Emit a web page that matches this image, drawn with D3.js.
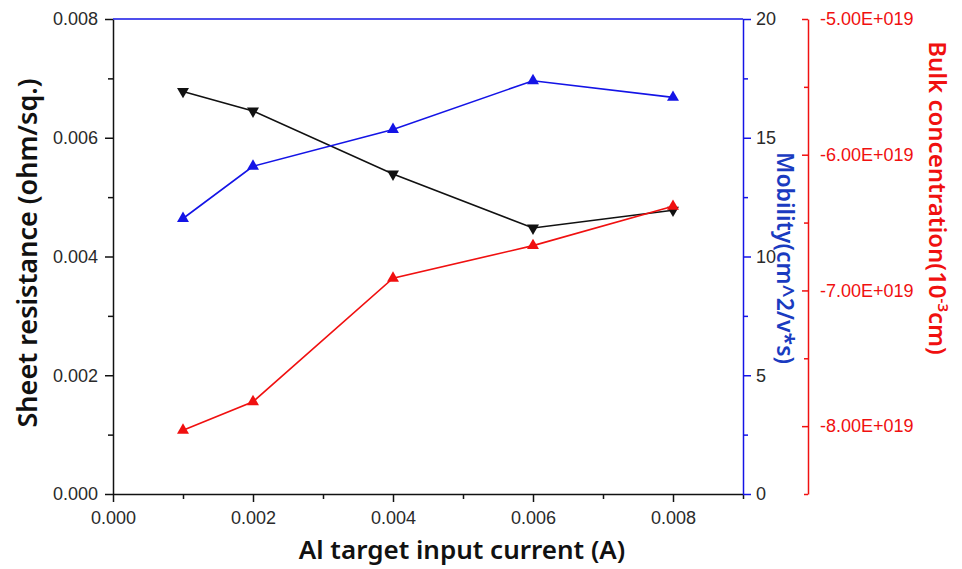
<!DOCTYPE html>
<html>
<head>
<meta charset="utf-8">
<script src="https://cdn.jsdelivr.net/npm/d3@7"></script>
<style>
  body { margin: 0; background: #fff; }
  .tick text { font-family: "Liberation Sans", Arial, sans-serif; font-size: 18px; }
  .title { font-family: "Noto Sans", sans-serif; font-weight: 600; }
</style>
</head>
<body>
<script>
// data
var currents = [0.001, 0.002, 0.004, 0.006, 0.008]
var sheetResistance = [0.00678, 0.00645, 0.00539, 0.00448, 0.00478]
var mobility = [11.6, 13.8, 15.35, 17.4, 16.7]
var bulkConc = [-8.03e19, -7.82e19, -6.91e19, -6.67e19, -6.38e19]

var xTicks = [0, 0.002, 0.004, 0.006, 0.008]
var xMinor = [0.001, 0.003, 0.005, 0.007, 0.009]
var leftTicks = [0, 0.002, 0.004, 0.006, 0.008]
var leftMinor = [0.001, 0.003, 0.005, 0.007]
var mobTicks = [0, 5, 10, 15, 20]
var mobMinor = [2.5, 7.5, 12.5, 17.5]
var bulkTicks = [-5e19, -6e19, -7e19, -8e19]
var bulkMinor = [-5.5e19, -6.5e19, -7.5e19, -8.5e19]

var width = 962, height = 569
var plot = {left: 113, right: 743, top: 19, bottom: 494}
var redAxisX = 808

var blue = "#1414e6", red = "#f01010"

var svg = d3.select("body").append("svg")
    .attr("width", width)
    .attr("height", height)

var x = d3.scaleLinear().domain([0, 0.009]).range([plot.left, plot.right])
var yLeft = d3.scaleLinear().domain([0, 0.008]).range([plot.bottom, plot.top])
var yMob = d3.scaleLinear().domain([0, 20]).range([plot.bottom, plot.top])
var yBulk = d3.scaleLinear().domain([-8.5e19, -5e19]).range([plot.bottom, plot.top])

function styleAxis(g, color) {
    g.select(".domain").attr("stroke", color).attr("stroke-width", 1.5)
    g.selectAll(".tick line").attr("stroke", color).attr("stroke-width", 1.5)
    g.selectAll(".tick text").attr("fill", "#2a2a2a")
}

/* bottom axis */
var gx = svg.append("g").attr("transform", "translate(0," + plot.bottom + ")")
    .call(d3.axisBottom(x).tickValues(xTicks).tickFormat(d3.format(".3f")).tickSize(8).tickPadding(9).tickSizeOuter(0))
styleAxis(gx, "#111")
var gxm = svg.append("g").attr("transform", "translate(0," + plot.bottom + ")")
    .call(d3.axisBottom(x).tickValues(xMinor).tickFormat("").tickSize(5).tickSizeOuter(0))
styleAxis(gxm, "#111")
gxm.select(".domain").remove()

/* left axis */
var gy = svg.append("g").attr("transform", "translate(" + plot.left + ",0)")
    .call(d3.axisLeft(yLeft).tickValues(leftTicks).tickFormat(d3.format(".3f")).tickSize(8).tickPadding(7).tickSizeOuter(0))
styleAxis(gy, "#111")
var gym = svg.append("g").attr("transform", "translate(" + plot.left + ",0)")
    .call(d3.axisLeft(yLeft).tickValues(leftMinor).tickFormat("").tickSize(5).tickSizeOuter(0))
styleAxis(gym, "#111")
gym.select(".domain").remove()

/* top border, blue */
svg.append("line")
    .attr("x1", plot.left).attr("x2", plot.right)
    .attr("y1", plot.top).attr("y2", plot.top)
    .attr("stroke", blue).attr("stroke-width", 1.5)

/* right axis: mobility */
var gm = svg.append("g").attr("transform", "translate(" + plot.right + ",0)")
    .call(d3.axisRight(yMob).tickValues(mobTicks).tickSize(8).tickPadding(5).tickSizeOuter(0))
styleAxis(gm, blue)
var gmm = svg.append("g").attr("transform", "translate(" + plot.right + ",0)")
    .call(d3.axisRight(yMob).tickValues(mobMinor).tickFormat("").tickSize(5).tickSizeOuter(0))
styleAxis(gmm, blue)
gmm.select(".domain").remove()

/* far right axis: bulk concentration, ticks point inward */
var bulkFormat = function(d) { return (d / 1e19).toFixed(2) + "E+019" }
var gb = svg.append("g").attr("transform", "translate(" + redAxisX + ",0)")
    .call(d3.axisRight(yBulk).tickValues(bulkTicks).tickFormat(bulkFormat).tickSize(-6).tickPadding(12).tickSizeOuter(0))
styleAxis(gb, red)
gb.selectAll(".tick text").attr("fill", red)
var gbm = svg.append("g").attr("transform", "translate(" + redAxisX + ",0)")
    .call(d3.axisRight(yBulk).tickValues(bulkMinor).tickFormat("").tickSize(-4).tickSizeOuter(0))
styleAxis(gbm, red)
gbm.select(".domain").remove()

/* series */
function drawSeries(values, yScale, color, down) {
    var pts = currents.map(function(c, i) { return [x(c), yScale(values[i])] })
    svg.append("path")
        .attr("d", d3.line()(pts))
        .attr("fill", "none")
        .attr("stroke", color)
        .attr("stroke-width", 1.6)
    svg.selectAll(null)
        .data(pts)
        .enter()
        .append("path")
        .attr("d", d3.symbol().type(d3.symbolTriangle).size(62))
        .attr("transform", function(d) {
            return "translate(" + d[0] + "," + d[1] + ")" + (down ? " rotate(180)" : "")
        })
        .attr("fill", color)
}
drawSeries(sheetResistance, yLeft, "#111", true)
drawSeries(mobility, yMob, blue, false)
drawSeries(bulkConc, yBulk, red, false)

/* axis titles */
svg.append("text")
    .attr("class", "title")
    .attr("x", 462).attr("y", 559)
    .attr("text-anchor", "middle")
    .attr("font-size", 26)
    .attr("fill", "#111")
    .text("Al target input current (A)")

svg.append("text")
    .attr("class", "title")
    .attr("transform", "translate(37,253) rotate(-90)")
    .attr("text-anchor", "middle")
    .attr("font-size", 27)
    .attr("fill", "#111")
    .text("Sheet resistance (ohm/sq.)")

svg.append("text")
    .attr("class", "title")
    .attr("transform", "translate(777,258) rotate(90)")
    .attr("text-anchor", "middle")
    .attr("font-size", 23)
    .attr("fill", "#1a3bc0")
    .text("Mobility(cm^2/v*s)")

var bt = svg.append("text")
    .attr("class", "title")
    .attr("transform", "translate(929,198) rotate(90)")
    .attr("text-anchor", "middle")
    .attr("font-size", 24)
    .attr("fill", red)
bt.append("tspan").text("Bulk concentration(10")
bt.append("tspan").attr("font-size", 15).attr("dy", -9).text("-3")
bt.append("tspan").attr("dy", 9).text("cm)")
</script>
</body>
</html>
